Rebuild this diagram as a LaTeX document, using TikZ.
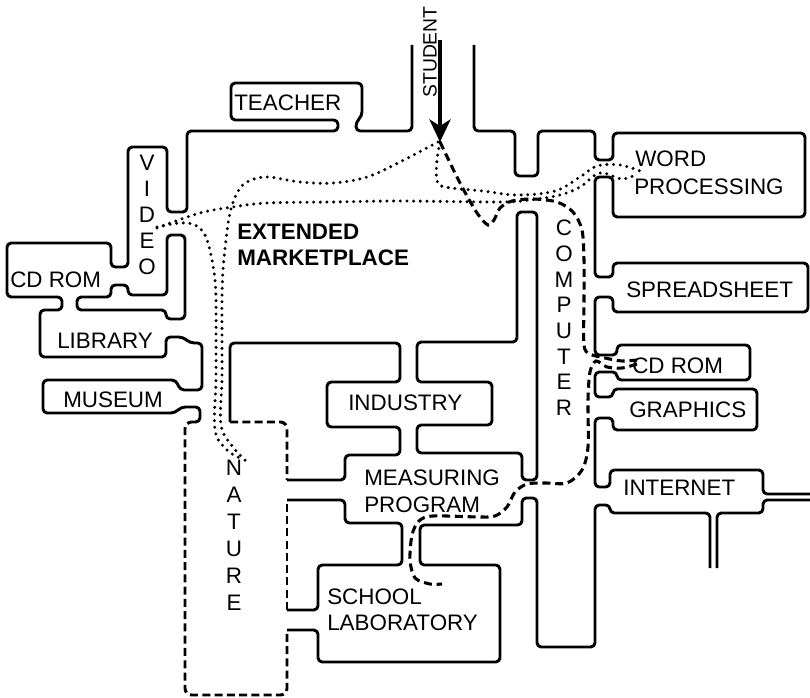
\documentclass[tikz,border=0pt]{standalone}
\usepackage{fontspec}
\setmainfont{Liberation Sans}
\usetikzlibrary{arrows.meta}
\begin{document}
\begin{tikzpicture}[x=0.75pt,y=-0.75pt,
  wall/.style={line width=2.2pt, rounded corners=3.2pt, line join=round},
  natb/.style={line width=2.2pt, rounded corners=5pt, dash pattern=on 6pt off 3.2pt},
  dashroute/.style={line width=2.3pt, dash pattern=on 6pt off 3.6pt},
  dotroute/.style={line width=2.5pt, line cap=round, dash pattern=on 0pt off 5pt},
  lbl/.style={inner sep=0pt, anchor=west, font=\fontsize{16.8}{20}\selectfont},
  blbl/.style={inner sep=0pt, anchor=west, font=\fontsize{16.8}{20}\selectfont\bfseries},
  ltr/.style={inner sep=0pt, font=\fontsize{16.8}{20}\selectfont},
]
\useasboundingbox (0,0) rectangle (810,698);

% ---------- walls, left side ----------
\draw[wall] (412,45) -- (412,131) -- (356,131) -- (356,122) -- (362,116) -- (362,83)
  -- (231,83) -- (231,120) -- (338,120) -- (338,131) -- (187,131) -- (187,212)
  -- (167,212) -- (167,147) -- (128,147) -- (128,267) -- (111,267) -- (111,243)
  -- (7,243) -- (7,297) -- (62,297) -- (62,310) -- (40,310) -- (40,357)
  -- (166,357) -- (166,337) -- (183,337) -- (190,343) -- (202,343) -- (202,390)
  -- (180,390) -- (176,380) -- (43,380) -- (43,413) -- (175,413) -- (181,407)
  -- (200,407) -- (200,422) -- (195,422);
\draw[wall] (185,235) -- (185,319) -- (166,319) -- (166,310) -- (77,310) -- (77,297)
  -- (111,297) -- (111,285) -- (128,285) -- (128,295) -- (167,295) -- (167,235) -- cycle;

% ---------- walls, centre ----------
\draw[wall] (417,382) -- (417,342) -- (517,342) -- (517,212) -- (537,212) -- (537,480)
  -- (522,480) -- (522,453) -- (417,453) -- (417,425) -- (492,425) -- (492,382) -- cycle;
\draw[wall] (230,422) -- (230,343) -- (400,343) -- (400,382) -- (327,382) -- (327,427)
  -- (400,427) -- (400,455) -- (345,455) -- (345,480) -- (287,480);
\draw[wall] (287,500) -- (345,500) -- (345,523) -- (402,523) -- (402,565) -- (318,565)
  -- (318,610) -- (287,610);

% ---------- walls, right side ----------
\draw[wall] (474,45) -- (474,131) -- (515,131) -- (515,176) -- (538,176) -- (538,131)
  -- (595,131) -- (595,160) -- (613,160) -- (613,133) -- (805,133) -- (805,217)
  -- (613,217) -- (613,177) -- (595,177) -- (595,277) -- (613,277) -- (613,263)
  -- (808,263) -- (808,312) -- (613,312) -- (613,297) -- (595,297) -- (595,355)
  -- (617,355) -- (617,345) -- (750,345) -- (750,380) -- (617,380) -- (617,372)
  -- (595,372) -- (595,397) -- (613,397) -- (613,389) -- (757,389) -- (757,430)
  -- (613,430) -- (613,418) -- (595,418) -- (595,487) -- (610,487) -- (610,470)
  -- (763,470) -- (763,494) -- (810,494);
\draw[wall] (810,500) -- (763,500) -- (763,513) -- (717,513) -- (717,568);
\draw[wall] (710,568) -- (710,513) -- (610,513) -- (610,505) -- (595,505) -- (595,647)
  -- (537,647) -- (537,498) -- (522,498) -- (522,525) -- (420,525) -- (420,565)
  -- (500,565) -- (500,662) -- (318,662) -- (318,630) -- (287,630);

% ---------- nature (dashed) ----------
\draw[natb] (195,422) -- (185,422) -- (185,695) -- (287,695) -- (287,630);
\draw[natb] (287,610) -- (287,500);
\draw[natb] (230,422) -- (287,422) -- (287,480);

% ---------- student arrow ----------
\draw[line width=2.4pt, -{Stealth[length=17pt,width=16pt,inset=5pt]}] (440,40) -- (440,142);
\node[ltr, rotate=90, font=\fontsize{14.5}{17}\selectfont] (student) at (430,52) {STUDENT};

% ---------- routes ----------
\draw[dotroute] plot[smooth, tension=0.6] coordinates {(438,142) (400,162) (367,177) (333,183) (300,182) (267,177) (247,182) (237,193) (230,213) (226,240) (223,270) (222,300) (222,340) (222,380) (221,425) (233,447) (248,463)};
\draw[dotroute] plot[smooth, tension=0.6] coordinates {(157,227) (180,223) (195,225) (205,235) (211,255) (215,280) (216,300) (216,340) (216,380) (215,430) (227,450) (240,458)};
\draw[dotroute] plot[smooth, tension=0.6] coordinates {(440,142) (437,160) (437,180) (445,187) (483,191) (517,195) (555,191) (580,177) (597,166) (620,165) (640,171)};
\draw[dotroute] plot[smooth, tension=0.6] coordinates {(157,228) (200,213) (233,207) (267,203) (333,202) (400,201) (500,202) (530,200) (560,195) (580,187) (600,173) (622,179) (637,174)};

\draw[dashroute] plot[smooth, tension=0.5] coordinates {(440,142) (460,183) (477,213) (488,225) (494,220) (500,208) (512,201) (533,199) (557,202) (573,212) (582,230) (584,260) (584,300) (584,345) (590,354) (605,358) (622,361) (637,360)};
\draw[dashroute] plot[smooth, tension=0.5] coordinates {(637,364) (622,368) (607,367) (596,361) (590,372) (588,400) (588,447) (582,470) (567,483) (545,483) (527,484) (515,492) (507,507) (495,516) (480,517) (433,516) (419,521) (412,535) (410,560) (415,578) (430,584) (442,584)};

% ---------- labels ----------
\node[lbl] (teacher) at (234,103) {TEACHER};
\node[blbl] (ext) at (237,232) {EXTENDED};
\node[blbl] (mkt) at (237,258) {MARKETPLACE};
\node[lbl] (word) at (635,159) {WORD};
\node[lbl] (proc) at (634,187) {PROCESSING};
\node[lbl] (spread) at (626,290) {SPREADSHEET};
\node[lbl] (cdr) at (632,366) {CD ROM};
\node[lbl] (graph) at (629,410) {GRAPHICS};
\node[lbl] (inet) at (623,488) {INTERNET};
\node[lbl] (cdl) at (10,280) {CD ROM};
\node[lbl] (lib) at (57,341) {LIBRARY};
\node[lbl] (mus) at (63,400) {MUSEUM};
\node[lbl] (ind) at (348,403) {INDUSTRY};
\node[lbl] (meas) at (364,478) {MEASURING};
\node[lbl] (prog) at (364,505) {PROGRAM};
\node[lbl] (school) at (327,597) {SCHOOL};
\node[lbl] (lab) at (327,623) {LABORATORY};
\foreach \l [count=\i] in {V,I,D,E,O}
  \node[ltr] (video\i) at (147,{137+26*\i}) {\l};
\foreach \l [count=\i] in {C,O,M,P,U,T,E,R}
  \node[ltr] (comp\i) at (564,{202.3+25.7*\i}) {\l};
\foreach \l [count=\i] in {N,A,T,U,R,E}
  \node[ltr] (nat\i) at (234,{441+27*\i}) {\l};
\end{tikzpicture}
\end{document}
